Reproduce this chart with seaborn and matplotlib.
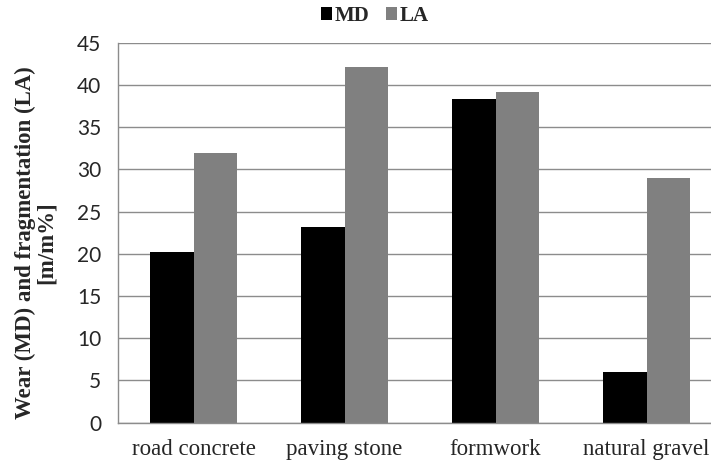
import matplotlib
matplotlib.use("Agg")
import matplotlib.pyplot as plt
import seaborn as sns
import pandas as pd

categories = ["road concrete", "paving stone", "formwork", "natural gravel"]
md_values = [20.2, 23.2, 38.4, 6.0]
la_values = [31.9, 42.1, 39.2, 29.0]
series_names = ["MD", "LA"]
yticks = [0, 5, 10, 15, 20, 25, 30, 35, 40, 45]

df = pd.DataFrame({
    "category": categories * 2,
    "value": md_values + la_values,
    "series": [series_names[0]] * len(categories) + [series_names[1]] * len(categories),
})

sns.set_theme(style="white")
plt.rcParams["font.family"] = ["Liberation Serif", "DejaVu Serif"]

fig = plt.figure(figsize=(7.11, 4.66), dpi=100)
ax = fig.add_axes([0.166, 0.093, 0.834, 0.815])

sns.barplot(data=df, x="category", y="value", hue="series",
            palette=["#000000", "#808080"], width=0.58, ax=ax,
            saturation=1, legend=True, linewidth=0)

ax.set_ylim(0, 45)
ax.set_yticks(yticks)
ax.set_xlim(-0.5, 3.427)
ax.yaxis.grid(True, color="#8c8c8c", linewidth=1.0)
ax.set_axisbelow(True)
for s in ["top", "right"]:
    ax.spines[s].set_visible(False)
for s in ["left", "bottom"]:
    ax.spines[s].set_color("#8c8c8c")
    ax.spines[s].set_linewidth(1.0)
ax.tick_params(axis="y", length=0, pad=12)
ax.tick_params(axis="x", length=0, pad=12)
for lab in ax.get_yticklabels():
    lab.set_fontfamily(["Lato", "DejaVu Sans"])
    lab.set_fontsize(15)
for lab in ax.get_xticklabels():
    lab.set_fontsize(16.5)
ax.set_xlabel("")
ax.set_ylabel("Wear (MD) and fragmentation (LA)\n[m/m%]", fontsize=16.5,
              fontweight="bold", linespacing=1.0)
ax.yaxis.set_label_coords(-0.103, 0.475)

handles, labels = ax.get_legend_handles_labels()
ax.legend(handles, labels, loc="center", bbox_to_anchor=(0.527, 0.966),
          bbox_transform=fig.transFigure, ncol=2, frameon=False,
          prop={"weight": "bold", "size": 15}, handlelength=0.55,
          handleheight=0.55, handletextpad=0.1, columnspacing=0.8)

fig.savefig("out.png", dpi=100)
